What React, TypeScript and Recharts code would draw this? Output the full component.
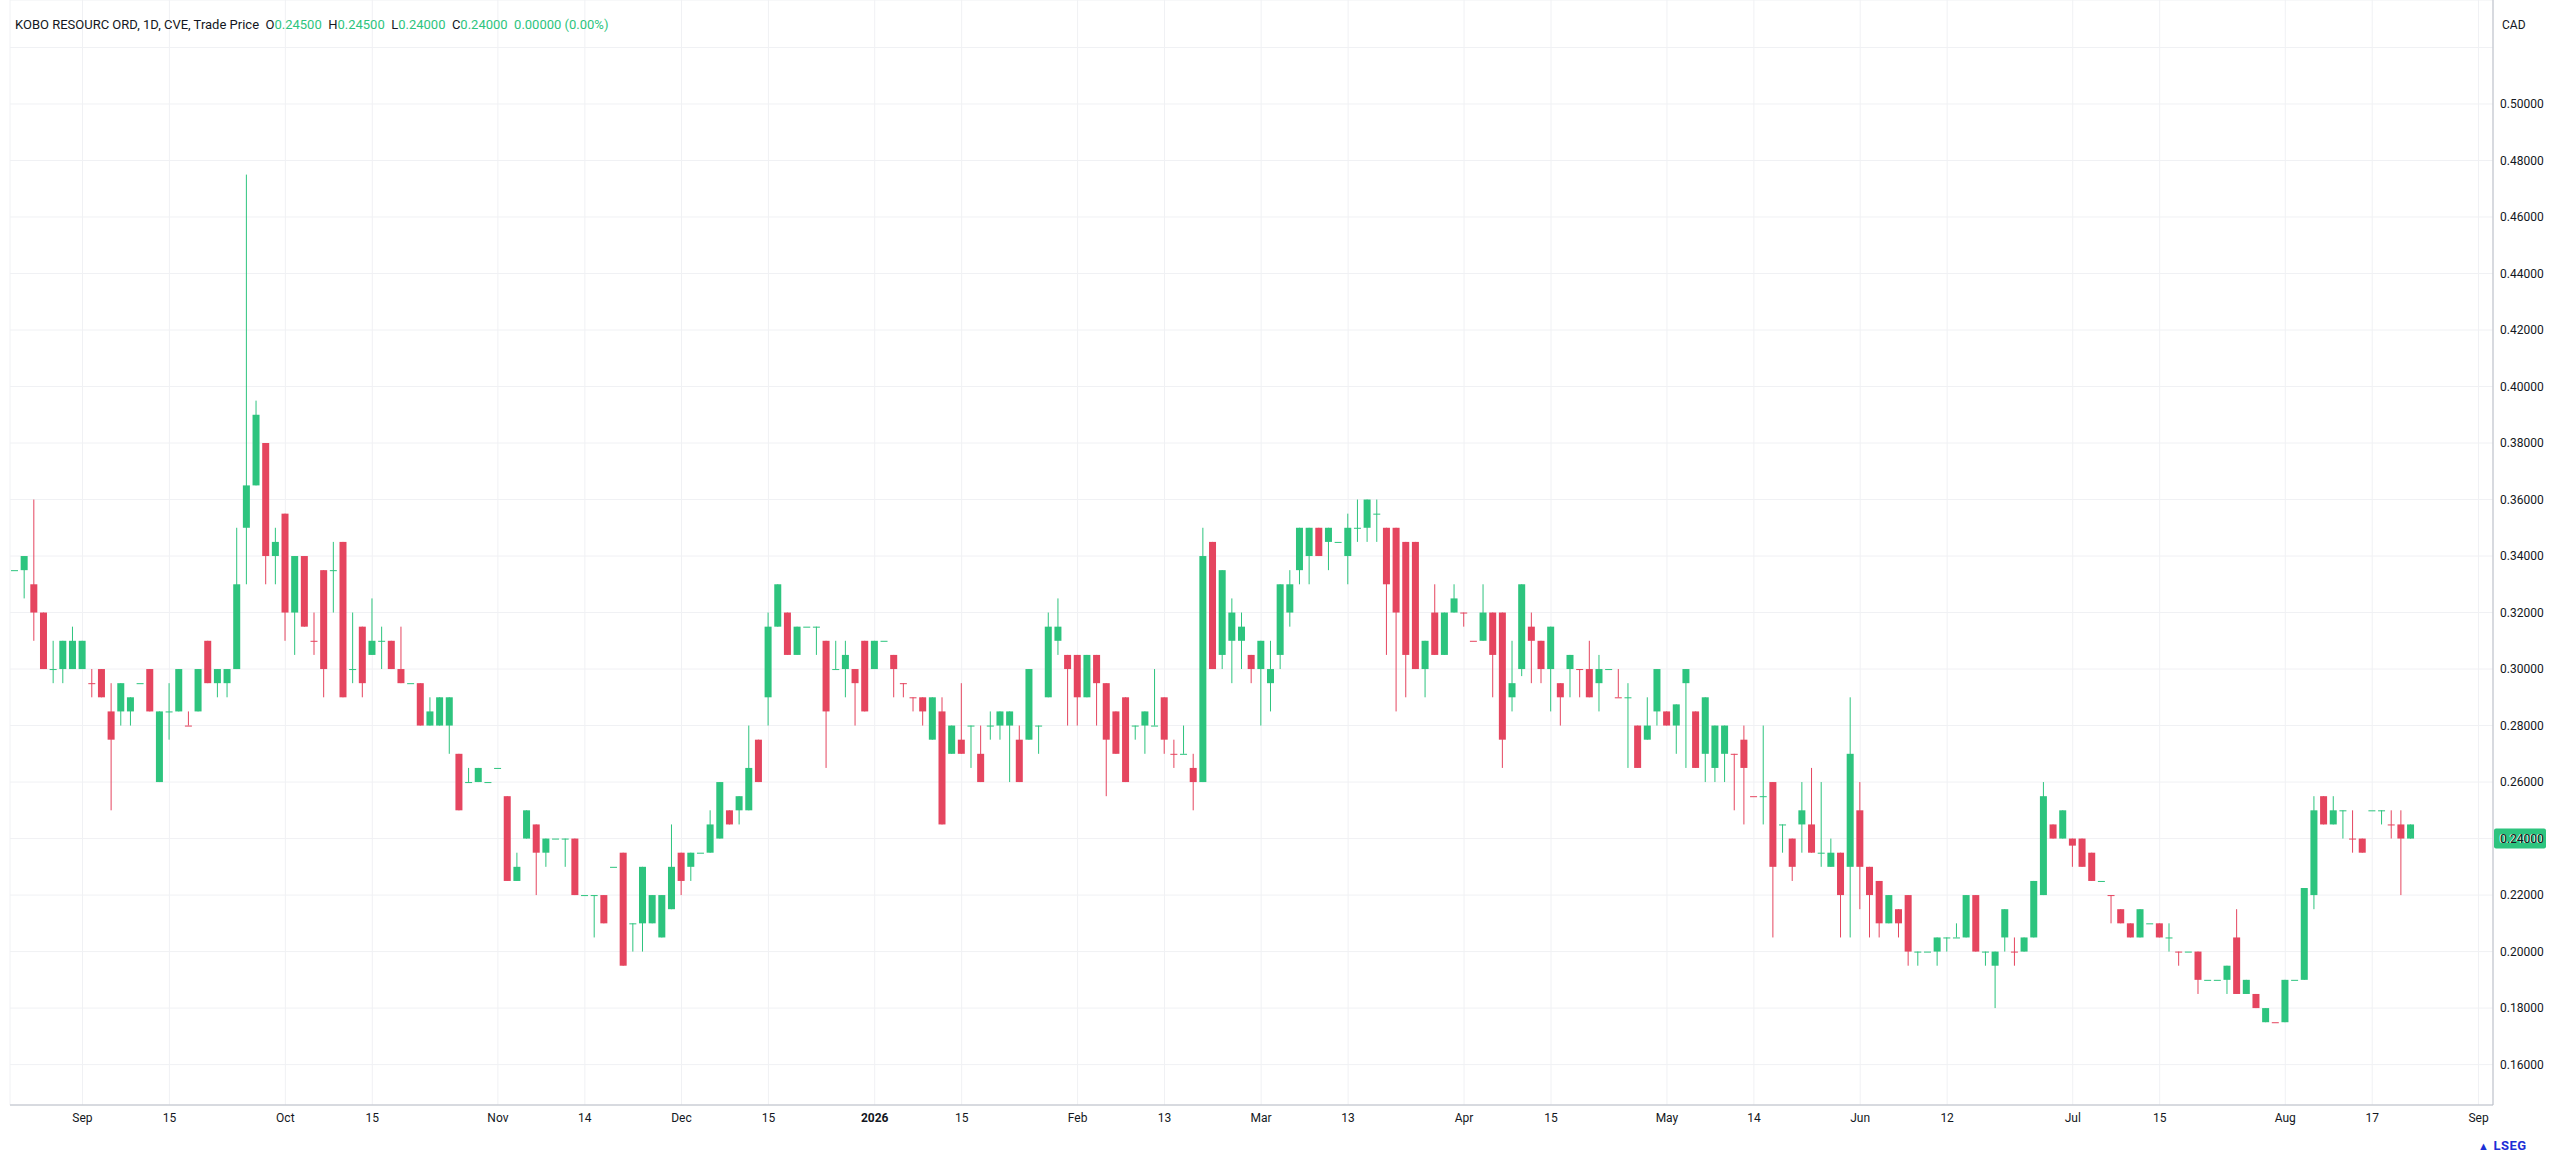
import React from 'react';
import { ComposedChart, Bar, XAxis, YAxis, CartesianGrid, ReferenceLine } from 'recharts';

// daily OHLC (CAD)
const opens = [
  0.335, 0.335, 0.33, 0.32, 0.3, 0.3, 0.3, 0.3, 0.295, 0.3, 0.285, 0.285, 0.285, 0.295, 0.3, 0.26, 0.285, 0.285, 0.28, 0.285,
  0.31, 0.295, 0.295, 0.3, 0.35, 0.365, 0.38, 0.34, 0.355, 0.32, 0.34, 0.31, 0.335, 0.335, 0.345, 0.3, 0.315, 0.305, 0.31, 0.31,
  0.3, 0.295, 0.295, 0.28, 0.28, 0.28, 0.27, 0.26, 0.26, 0.26, 0.265, 0.255, 0.225, 0.24, 0.245, 0.235, 0.24, 0.24, 0.24, 0.22,
  0.22, 0.22, 0.23, 0.235, 0.21, 0.21, 0.21, 0.205, 0.215, 0.235, 0.23, 0.235, 0.235, 0.24, 0.25, 0.25, 0.25, 0.275, 0.29, 0.315,
  0.32, 0.305, 0.315, 0.315, 0.31, 0.3, 0.3, 0.3, 0.31, 0.3, 0.31, 0.305, 0.295, 0.29, 0.29, 0.275, 0.285, 0.27, 0.275, 0.28,
  0.27, 0.28, 0.28, 0.28, 0.275, 0.275, 0.28, 0.29, 0.31, 0.305, 0.305, 0.29, 0.305, 0.295, 0.285, 0.29, 0.28, 0.28, 0.28, 0.29,
  0.27, 0.27, 0.265, 0.26, 0.345, 0.305, 0.31, 0.31, 0.305, 0.3, 0.295, 0.305, 0.32, 0.335, 0.34, 0.35, 0.345, 0.345, 0.34, 0.35,
  0.35, 0.355, 0.35, 0.35, 0.345, 0.345, 0.3, 0.32, 0.305, 0.32, 0.32, 0.31, 0.31, 0.32, 0.32, 0.29, 0.3, 0.315, 0.31, 0.3,
  0.295, 0.3, 0.3, 0.3, 0.295, 0.3, 0.29, 0.29, 0.28, 0.275, 0.285, 0.285, 0.28, 0.295, 0.285, 0.27, 0.265, 0.27, 0.27, 0.275,
  0.255, 0.255, 0.26, 0.245, 0.24, 0.245, 0.245, 0.235, 0.23, 0.235, 0.23, 0.25, 0.23, 0.225, 0.21, 0.215, 0.22, 0.2, 0.2, 0.2,
  0.205, 0.205, 0.205, 0.22, 0.2, 0.195, 0.205, 0.2, 0.2, 0.205, 0.22, 0.245, 0.24, 0.24, 0.24, 0.235, 0.225, 0.22, 0.215, 0.21,
  0.205, 0.21, 0.21, 0.205, 0.2, 0.2, 0.2, 0.19, 0.19, 0.19, 0.205, 0.185, 0.185, 0.175, 0.175, 0.175, 0.19, 0.19, 0.22, 0.255,
  0.245, 0.25, 0.24, 0.24, 0.25, 0.25, 0.245, 0.245, 0.24,
];
const highs = [
  0.335, 0.34, 0.36, 0.32, 0.31, 0.31, 0.315, 0.31, 0.3, 0.3, 0.295, 0.295, 0.29, 0.295, 0.3, 0.285, 0.295, 0.3, 0.285, 0.3,
  0.31, 0.3, 0.3, 0.35, 0.475, 0.395, 0.38, 0.35, 0.355, 0.34, 0.34, 0.32, 0.335, 0.345, 0.345, 0.32, 0.315, 0.325, 0.315, 0.31,
  0.315, 0.295, 0.295, 0.29, 0.29, 0.29, 0.27, 0.265, 0.265, 0.26, 0.265, 0.255, 0.235, 0.25, 0.245, 0.24, 0.24, 0.24, 0.24, 0.22,
  0.22, 0.22, 0.23, 0.235, 0.21, 0.23, 0.22, 0.22, 0.245, 0.235, 0.235, 0.235, 0.25, 0.26, 0.25, 0.255, 0.28, 0.275, 0.32, 0.33,
  0.32, 0.315, 0.315, 0.315, 0.31, 0.31, 0.31, 0.3, 0.31, 0.31, 0.31, 0.305, 0.295, 0.29, 0.29, 0.29, 0.29, 0.28, 0.295, 0.28,
  0.28, 0.285, 0.285, 0.285, 0.28, 0.3, 0.28, 0.32, 0.325, 0.305, 0.305, 0.305, 0.305, 0.295, 0.285, 0.29, 0.28, 0.285, 0.3, 0.29,
  0.275, 0.28, 0.27, 0.35, 0.345, 0.335, 0.325, 0.32, 0.305, 0.31, 0.31, 0.33, 0.335, 0.35, 0.35, 0.35, 0.35, 0.345, 0.355, 0.36,
  0.36, 0.36, 0.35, 0.35, 0.345, 0.345, 0.31, 0.33, 0.32, 0.33, 0.32, 0.31, 0.33, 0.32, 0.32, 0.31, 0.33, 0.32, 0.31, 0.315,
  0.295, 0.305, 0.3, 0.31, 0.305, 0.3, 0.3, 0.295, 0.28, 0.29, 0.3, 0.285, 0.2875, 0.3, 0.285, 0.29, 0.28, 0.28, 0.27, 0.28,
  0.255, 0.28, 0.26, 0.245, 0.24, 0.26, 0.265, 0.26, 0.24, 0.235, 0.29, 0.26, 0.23, 0.225, 0.22, 0.215, 0.22, 0.2, 0.2, 0.205,
  0.205, 0.21, 0.22, 0.22, 0.2, 0.2, 0.215, 0.205, 0.205, 0.225, 0.26, 0.245, 0.25, 0.24, 0.24, 0.235, 0.225, 0.22, 0.215, 0.21,
  0.215, 0.21, 0.21, 0.21, 0.2, 0.2, 0.2, 0.19, 0.19, 0.195, 0.215, 0.19, 0.185, 0.18, 0.175, 0.19, 0.19, 0.2225, 0.255, 0.255,
  0.255, 0.25, 0.25, 0.24, 0.25, 0.25, 0.25, 0.25, 0.245,
];
const lows = [
  0.335, 0.325, 0.31, 0.3, 0.295, 0.295, 0.3, 0.3, 0.29, 0.29, 0.25, 0.28, 0.28, 0.295, 0.285, 0.26, 0.275, 0.285, 0.28, 0.285,
  0.295, 0.29, 0.29, 0.3, 0.33, 0.365, 0.33, 0.33, 0.31, 0.305, 0.315, 0.305, 0.29, 0.32, 0.29, 0.295, 0.29, 0.305, 0.3, 0.3,
  0.295, 0.295, 0.28, 0.28, 0.28, 0.27, 0.25, 0.26, 0.26, 0.26, 0.265, 0.225, 0.225, 0.24, 0.22, 0.23, 0.24, 0.23, 0.22, 0.22,
  0.205, 0.21, 0.23, 0.195, 0.2, 0.2, 0.21, 0.205, 0.215, 0.22, 0.225, 0.235, 0.235, 0.24, 0.245, 0.245, 0.25, 0.26, 0.28, 0.315,
  0.305, 0.305, 0.315, 0.305, 0.265, 0.3, 0.29, 0.28, 0.285, 0.3, 0.31, 0.29, 0.29, 0.285, 0.28, 0.275, 0.245, 0.27, 0.27, 0.265,
  0.26, 0.275, 0.275, 0.26, 0.26, 0.275, 0.27, 0.29, 0.305, 0.28, 0.28, 0.29, 0.28, 0.255, 0.27, 0.26, 0.275, 0.27, 0.28, 0.27,
  0.265, 0.27, 0.25, 0.26, 0.3, 0.3, 0.295, 0.3, 0.295, 0.28, 0.285, 0.3, 0.315, 0.33, 0.33, 0.34, 0.335, 0.345, 0.33, 0.345,
  0.345, 0.345, 0.305, 0.285, 0.29, 0.3, 0.29, 0.305, 0.305, 0.32, 0.315, 0.31, 0.31, 0.29, 0.265, 0.285, 0.2975, 0.295, 0.295, 0.285,
  0.28, 0.29, 0.29, 0.29, 0.285, 0.3, 0.29, 0.265, 0.265, 0.275, 0.28, 0.28, 0.27, 0.265, 0.265, 0.26, 0.26, 0.26, 0.25, 0.245,
  0.255, 0.245, 0.205, 0.235, 0.225, 0.235, 0.235, 0.23, 0.23, 0.205, 0.205, 0.215, 0.205, 0.205, 0.21, 0.205, 0.195, 0.195, 0.2, 0.195,
  0.2, 0.205, 0.205, 0.2, 0.195, 0.18, 0.2, 0.195, 0.2, 0.205, 0.22, 0.24, 0.24, 0.23, 0.23, 0.225, 0.225, 0.21, 0.21, 0.205,
  0.205, 0.21, 0.205, 0.2, 0.195, 0.2, 0.185, 0.19, 0.19, 0.185, 0.185, 0.185, 0.18, 0.175, 0.175, 0.175, 0.19, 0.19, 0.215, 0.245,
  0.245, 0.24, 0.235, 0.235, 0.25, 0.245, 0.24, 0.22, 0.24,
];
const closes = [
  0.335, 0.34, 0.32, 0.3, 0.3, 0.31, 0.31, 0.31, 0.295, 0.29, 0.275, 0.295, 0.29, 0.295, 0.285, 0.285, 0.285, 0.3, 0.28, 0.3,
  0.295, 0.3, 0.3, 0.33, 0.365, 0.39, 0.34, 0.345, 0.32, 0.34, 0.315, 0.31, 0.3, 0.335, 0.29, 0.3, 0.295, 0.31, 0.31, 0.3,
  0.295, 0.295, 0.28, 0.285, 0.29, 0.29, 0.25, 0.26, 0.265, 0.26, 0.265, 0.225, 0.23, 0.25, 0.235, 0.24, 0.24, 0.24, 0.22, 0.22,
  0.22, 0.21, 0.23, 0.195, 0.21, 0.23, 0.22, 0.22, 0.23, 0.225, 0.235, 0.235, 0.245, 0.26, 0.245, 0.255, 0.265, 0.26, 0.315, 0.33,
  0.305, 0.315, 0.315, 0.315, 0.285, 0.3, 0.305, 0.295, 0.285, 0.31, 0.31, 0.3, 0.295, 0.29, 0.285, 0.29, 0.245, 0.28, 0.27, 0.28,
  0.26, 0.28, 0.285, 0.285, 0.26, 0.3, 0.28, 0.315, 0.315, 0.3, 0.29, 0.305, 0.295, 0.275, 0.27, 0.26, 0.28, 0.285, 0.28, 0.275,
  0.27, 0.27, 0.26, 0.34, 0.3, 0.335, 0.32, 0.315, 0.3, 0.31, 0.3, 0.33, 0.33, 0.35, 0.35, 0.34, 0.35, 0.345, 0.35, 0.35,
  0.36, 0.355, 0.33, 0.32, 0.305, 0.3, 0.31, 0.305, 0.32, 0.325, 0.32, 0.31, 0.32, 0.305, 0.275, 0.295, 0.33, 0.31, 0.3, 0.315,
  0.29, 0.305, 0.3, 0.29, 0.3, 0.3, 0.29, 0.29, 0.265, 0.28, 0.3, 0.28, 0.2875, 0.3, 0.265, 0.29, 0.28, 0.28, 0.27, 0.265,
  0.255, 0.255, 0.23, 0.245, 0.23, 0.25, 0.235, 0.235, 0.235, 0.22, 0.27, 0.23, 0.22, 0.21, 0.22, 0.21, 0.2, 0.2, 0.2, 0.205,
  0.205, 0.205, 0.22, 0.2, 0.2, 0.2, 0.215, 0.2, 0.205, 0.225, 0.255, 0.24, 0.25, 0.2375, 0.23, 0.225, 0.225, 0.22, 0.21, 0.205,
  0.215, 0.21, 0.205, 0.205, 0.2, 0.2, 0.19, 0.19, 0.19, 0.195, 0.185, 0.19, 0.18, 0.18, 0.175, 0.19, 0.19, 0.2225, 0.25, 0.245,
  0.25, 0.25, 0.24, 0.235, 0.25, 0.25, 0.245, 0.24, 0.245,
];
// flat candles drawn in red (0-based)
const redDojis = [8, 18, 31, 92, 93, 120, 150, 151, 162, 166, 178, 180, 207, 217, 224, 234, 242, 246];

const tickIndex = [7, 16, 28, 37, 50, 59, 69, 78, 89, 98, 110, 119, 129, 138, 150, 159, 171, 180, 191, 200, 213, 222, 235, 244, 255];
const tickLabels = ['Sep', '15', 'Oct', '15', 'Nov', '14', 'Dec', '15', '2026', '15', 'Feb', '13', 'Mar', '13', 'Apr', '15', 'May', '14', 'Jun', '12', 'Jul', '15', 'Aug', '17', 'Sep'];
const priceTicks = [0.16, 0.18, 0.2, 0.22, 0.24, 0.26, 0.28, 0.3, 0.32, 0.34, 0.36, 0.38, 0.4, 0.42, 0.44, 0.46, 0.48, 0.5, 0.52];
const lastPrice = 0.24;

const SLOTS = 257;
const Y_MIN = 0.1457;
const Y_MAX = 0.5368;
const GREEN = '#2dc47e';
const RED = '#e5455f';
const FONT = 'Roboto, "Noto Sans", Arial, sans-serif';
const TEXT = '#131722';

const rows = Array.from({ length: SLOTS }, (_, i) =>
  i < closes.length
    ? {
        i,
        o: opens[i],
        h: highs[i],
        l: lows[i],
        c: closes[i],
        range: [Y_MIN, highs[i]],
        down: closes[i] < opens[i] || (closes[i] === opens[i] && redDojis.includes(i)),
      }
    : { i, range: null }
);

const Candle = (props: any) => {
  const { x, y, width, height } = props;
  const p = props.payload ?? props;
  if (!p || p.o == null) return null;
  const top = Math.min(y, y + height);
  const span = Math.abs(height);
  const k = span / (p.h - Y_MIN);
  const py = (v: number) => top + (p.h - v) * k;
  const color = p.down ? RED : GREEN;
  const cx = x + width / 2;
  const bTop = py(Math.max(p.o, p.c));
  const bBot = py(Math.min(p.o, p.c));
  return (
    <g>
      <line x1={cx} x2={cx} y1={py(p.h)} y2={py(p.l)} stroke={color} strokeWidth={1} />
      <rect x={x} y={bTop} width={width} height={Math.max(bBot - bTop, 1)} fill={color} />
    </g>
  );
};

const XTick = ({ x, y, payload }: any) => {
  const label = tickLabels[tickIndex.indexOf(payload.value)];
  return (
    <text x={x} y={y + 15} textAnchor="middle" fontSize={12} fontFamily={FONT} fill={TEXT} fontWeight={label === '2026' ? 700 : 400}>
      {label}
    </text>
  );
};

const PriceTag = ({ viewBox }: any) => {
  const x = viewBox.x + viewBox.width;
  const y = viewBox.y;
  return (
    <g>
      <rect x={x + 1} y={y - 10} width={52} height={20} fill={GREEN} rx={2} />
      <text x={x + 6} y={y + 4} fontSize={12} fontFamily={FONT} fill="#ffffff">
        {lastPrice.toFixed(5)}
      </text>
    </g>
  );
};

export default function App() {
  return (
    <div style={{ position: 'absolute', left: 0, top: 0, width: 2560, height: 1170, background: '#fff', fontFamily: FONT }}>
      <ComposedChart width={2560} height={1170} data={rows} margin={{ top: 0, right: 0, bottom: 0, left: 10 }} barSize={7}>
        <CartesianGrid stroke="#f0f1f4" />
        <XAxis
          dataKey="i"
          ticks={tickIndex}
          interval={0}
          tick={<XTick />}
          tickLine={false}
          tickSize={0}
          height={65}
          axisLine={{ stroke: '#b8bcc6' }}
        />
        <YAxis
          orientation="right"
          domain={[Y_MIN, Y_MAX]}
          allowDataOverflow
          ticks={priceTicks}
          interval={0}
          width={67}
          tickLine={false}
          tickSize={0}
          tickMargin={7}
          tick={{ fontSize: 12, fill: TEXT, fontFamily: FONT, textAnchor: 'start' }}
          tickFormatter={(v: number) => (v > 0.51 ? '' : v.toFixed(5))}
          axisLine={{ stroke: '#b8bcc6' }}
        />
        <Bar dataKey="range" shape={<Candle />} isAnimationActive={false} />
        <ReferenceLine y={lastPrice} stroke="none" label={<PriceTag />} />
      </ComposedChart>
      <div style={{ position: 'absolute', left: 15, top: 17, fontSize: 13, color: TEXT, whiteSpace: 'pre' }}>
        KOBO RESOURC ORD, 1D, CVE, Trade Price{'  '}O<span style={{ color: GREEN }}>0.24500</span>{'  '}H
        <span style={{ color: GREEN }}>0.24500</span>{'  '}L<span style={{ color: GREEN }}>0.24000</span>{'  '}C
        <span style={{ color: GREEN }}>0.24000</span>{'  '}<span style={{ color: GREEN }}>0.00000 (0.00%)</span>
      </div>
      <div style={{ position: 'absolute', left: 2502, top: 18, fontSize: 12, color: TEXT }}>CAD</div>
      <div style={{ position: 'absolute', left: 2478, top: 1138, fontSize: 13, fontWeight: 700, color: '#1d2fd6', letterSpacing: 0.5 }}>
        <span style={{ fontSize: 11, marginRight: 4 }}>▲</span>LSEG
      </div>
    </div>
  );
}
